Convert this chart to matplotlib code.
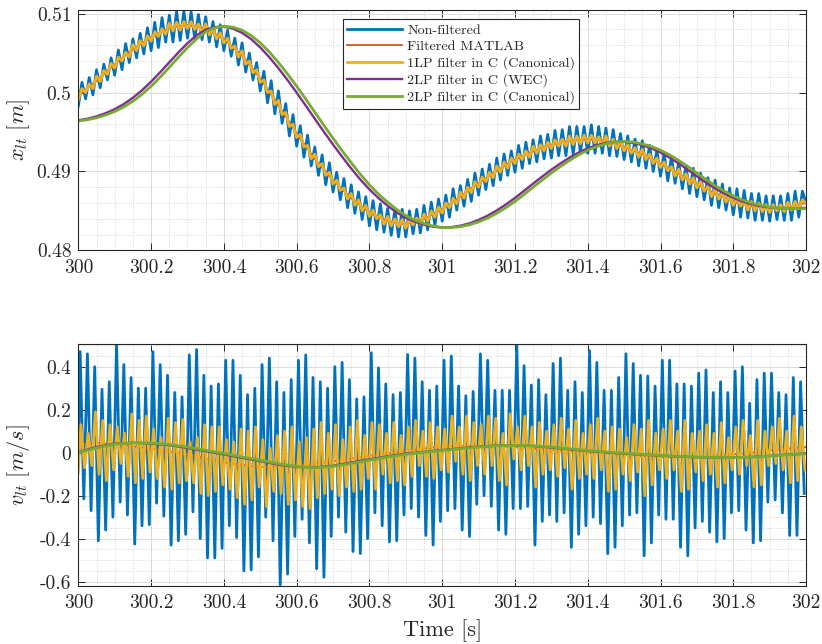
import numpy as np
import matplotlib
matplotlib.use("Agg")
import matplotlib.pyplot as plt
from matplotlib.ticker import FixedLocator, FixedFormatter, MultipleLocator

# ---------------- data ----------------
legend_labels = ["Non-filtered", "Filtered MATLAB", "1LP filter in C (Canonical)",
                 "2LP filter in C (WEC)", "2LP filter in C (Canonical)"]
colors = ["#0072BD", "#D95319", "#EDB120", "#7E2F8E", "#77AC30"]

x_ticks = [300, 300.2, 300.4, 300.6, 300.8, 301, 301.2, 301.4, 301.6, 301.8, 302]
x_ticklabels = ["300", "300.2", "300.4", "300.6", "300.8", "301", "301.2", "301.4", "301.6", "301.8", "302"]
pos_ticks = [0.48, 0.49, 0.50, 0.51]
pos_ticklabels = ["0.48", "0.49", "0.5", "0.51"]
vel_ticks = [-0.6, -0.4, -0.2, 0.0, 0.2, 0.4]
vel_ticklabels = ["-0.6", "-0.4", "-0.2", "0", "0.2", "0.4"]

# smooth curves, sampled every 0.05 s
t_smooth = np.round(np.linspace(300.0, 302.0, 41), 3)
# smooth position curves of the 2LP filters, sampled every 0.025 s
t_smooth_fine = np.round(np.linspace(300.0, 302.0, 81), 3)

pos_filt_matlab = [0.4996, 0.5015, 0.5036, 0.5055, 0.5070, 0.5082, 0.5086, 0.5081, 0.5068, 0.5047,
                   0.5018, 0.4984, 0.4948, 0.4916, 0.4889, 0.4866, 0.4848, 0.4837, 0.4833, 0.4840,
                   0.4852, 0.4868, 0.4885, 0.4901, 0.4915, 0.4926, 0.4934, 0.4939, 0.4941, 0.4939,
                   0.4931, 0.4922, 0.4910, 0.4897, 0.4884, 0.4872, 0.4862, 0.4856, 0.4853, 0.4855,
                   0.4860]
pos_2lp_can = [0.49640, 0.49655, 0.49680, 0.49715, 0.49760, 0.49818, 0.49890, 0.49978, 0.50080, 0.50196,
               0.50320, 0.50448, 0.50570, 0.50681, 0.50770, 0.50821, 0.50840, 0.50829, 0.50790, 0.50723,
               0.50630, 0.50514, 0.50380, 0.50235, 0.50080, 0.49917, 0.49750, 0.49584, 0.49420, 0.49262,
               0.49110, 0.48964, 0.48830, 0.48713, 0.48610, 0.48518, 0.48440, 0.48383, 0.48340, 0.48308,
               0.48290, 0.48288, 0.48300, 0.48324, 0.48360, 0.48409, 0.48470, 0.48541, 0.48620, 0.48708,
               0.48800, 0.48891, 0.48980, 0.49063, 0.49140, 0.49210, 0.49270, 0.49316, 0.49350, 0.49372,
               0.49380, 0.49372, 0.49350, 0.49316, 0.49270, 0.49210, 0.49140, 0.49062, 0.48980, 0.48898,
               0.48820, 0.48751, 0.48690, 0.48640, 0.48600, 0.48571, 0.48550, 0.48537, 0.48530, 0.48529,
               0.48530]
pos_2lp_wec = [0.49648, 0.49668, 0.49698, 0.49738, 0.49789, 0.49854, 0.49934, 0.50029, 0.50138, 0.50258,
               0.50384, 0.50509, 0.50626, 0.50726, 0.50796, 0.50831, 0.50835, 0.50810, 0.50757, 0.50677,
               0.50572, 0.50447, 0.50308, 0.50158, 0.49999, 0.49834, 0.49667, 0.49502, 0.49341, 0.49186,
               0.49037, 0.48897, 0.48772, 0.48662, 0.48564, 0.48479, 0.48412, 0.48362, 0.48324, 0.48299,
               0.48289, 0.48294, 0.48312, 0.48342, 0.48385, 0.48440, 0.48506, 0.48581, 0.48664, 0.48754,
               0.48846, 0.48936, 0.49022, 0.49102, 0.49175, 0.49240, 0.49293, 0.49333, 0.49361, 0.49376,
               0.49376, 0.49361, 0.49333, 0.49293, 0.49240, 0.49175, 0.49101, 0.49021, 0.48939, 0.48859,
               0.48786, 0.48721, 0.48665, 0.48620, 0.48586, 0.48561, 0.48544, 0.48534, 0.48530, 0.48530,
               0.48540]
vel_filt_matlab = [0.040, 0.045, 0.040, 0.030, 0.018, 0.006, -0.008, -0.027, -0.045, -0.058,
                   -0.066, -0.068, -0.062, -0.051, -0.040, -0.027, -0.015, -0.004, 0.008, 0.020,
                   0.028, 0.032, 0.032, 0.030, 0.026, 0.020, 0.013, 0.007, 0.002, -0.004,
                   -0.010, -0.016, -0.020, -0.022, -0.020, -0.015, -0.008, 0.000, 0.010, 0.019,
                   0.026]
vel_2lp_wec = [0.002, 0.026, 0.042, 0.046, 0.043, 0.035, 0.022, 0.007, -0.008, -0.024,
               -0.039, -0.056, -0.066, -0.069, -0.061, -0.046, -0.031, -0.017, -0.005, 0.004,
               0.012, 0.020, 0.028, 0.033, 0.034, 0.031, 0.024, 0.016, 0.008, 0.001,
               -0.004, -0.009, -0.014, -0.018, -0.021, -0.023, -0.023, -0.020, -0.015, -0.009,
               -0.004]
vel_2lp_can = [0.000, 0.022, 0.040, 0.046, 0.045, 0.038, 0.026, 0.011, -0.004, -0.020,
               -0.035, -0.052, -0.064, -0.070, -0.064, -0.050, -0.035, -0.020, -0.008, 0.002,
               0.010, 0.018, 0.026, 0.032, 0.034, 0.032, 0.026, 0.018, 0.010, 0.003,
               -0.002, -0.008, -0.013, -0.017, -0.020, -0.022, -0.023, -0.021, -0.016, -0.010,
               -0.005]

# oscillating position signals: minima (t = 300.00 + 0.02k) and maxima (t = 300.01 + 0.02k)
pos_raw_min = [0.4983, 0.4992, 0.4997, 0.5006, 0.5016, 0.5022, 0.5029, 0.5038, 0.5044, 0.5049,
               0.5053, 0.5057, 0.5064, 0.5064, 0.5066, 0.5069, 0.5068, 0.5067, 0.5064, 0.5058,
               0.5053, 0.5046, 0.5035, 0.5026, 0.5016, 0.5002, 0.4987, 0.4973, 0.4961, 0.4945,
               0.4932, 0.4918, 0.4907, 0.4895, 0.4883, 0.4874, 0.4864, 0.4854, 0.4847, 0.4839,
               0.4831, 0.4826, 0.4823, 0.4819, 0.4817, 0.4817, 0.4821, 0.4822, 0.4826, 0.4832,
               0.4837, 0.4842, 0.4851, 0.4856, 0.4862, 0.4870, 0.4877, 0.4882, 0.4889, 0.4895,
               0.4899, 0.4904, 0.4910, 0.4912, 0.4916, 0.4917, 0.4920, 0.4920, 0.4922, 0.4924,
               0.4923, 0.4923, 0.4923, 0.4920, 0.4919, 0.4915, 0.4912, 0.4907, 0.4904, 0.4900,
               0.4894, 0.4888, 0.4885, 0.4878, 0.4872, 0.4868, 0.4864, 0.4857, 0.4854, 0.4851,
               0.4845, 0.4842, 0.4841, 0.4838, 0.4838, 0.4837, 0.4839, 0.4838, 0.4838, 0.4842]
pos_raw_max = [0.5013, 0.5019, 0.5029, 0.5036, 0.5044, 0.5054, 0.5062, 0.5068, 0.5075, 0.5082,
               0.5089, 0.5095, 0.5098, 0.5103, 0.5103, 0.5102, 0.5099, 0.5096, 0.5090, 0.5086,
               0.5079, 0.5069, 0.5063, 0.5050, 0.5038, 0.5027, 0.5015, 0.5002, 0.4986, 0.4972,
               0.4958, 0.4946, 0.4931, 0.4921, 0.4911, 0.4899, 0.4891, 0.4883, 0.4874, 0.4868,
               0.4863, 0.4859, 0.4853, 0.4852, 0.4852, 0.4850, 0.4852, 0.4857, 0.4861, 0.4865,
               0.4870, 0.4878, 0.4882, 0.4890, 0.4898, 0.4903, 0.4909, 0.4917, 0.4922, 0.4926,
               0.4933, 0.4937, 0.4940, 0.4945, 0.4947, 0.4952, 0.4953, 0.4957, 0.4957, 0.4957,
               0.4959, 0.4957, 0.4955, 0.4953, 0.4948, 0.4945, 0.4941, 0.4939, 0.4933, 0.4927,
               0.4923, 0.4919, 0.4912, 0.4908, 0.4904, 0.4898, 0.4892, 0.4889, 0.4884, 0.4879,
               0.4878, 0.4876, 0.4872, 0.4872, 0.4869, 0.4869, 0.4869, 0.4872, 0.4875, 0.4875]
pos_raw_end = 0.4860
pos_1lp_min = [0.4991, 0.5000, 0.5005, 0.5014, 0.5023, 0.5031, 0.5040, 0.5045, 0.5053, 0.5059,
               0.5065, 0.5071, 0.5074, 0.5078, 0.5079, 0.5081, 0.5080, 0.5076, 0.5073, 0.5068,
               0.5063, 0.5056, 0.5045, 0.5036, 0.5025, 0.5013, 0.5000, 0.4985, 0.4972, 0.4957,
               0.4943, 0.4931, 0.4916, 0.4906, 0.4895, 0.4884, 0.4876, 0.4865, 0.4857, 0.4850,
               0.4843, 0.4840, 0.4833, 0.4831, 0.4830, 0.4828, 0.4832, 0.4833, 0.4837, 0.4842,
               0.4847, 0.4854, 0.4859, 0.4866, 0.4873, 0.4880, 0.4887, 0.4892, 0.4899, 0.4904,
               0.4910, 0.4915, 0.4918, 0.4923, 0.4926, 0.4929, 0.4932, 0.4932, 0.4934, 0.4935,
               0.4936, 0.4936, 0.4933, 0.4932, 0.4929, 0.4926, 0.4923, 0.4918, 0.4915, 0.4910,
               0.4905, 0.4901, 0.4894, 0.4889, 0.4884, 0.4879, 0.4875, 0.4868, 0.4865, 0.4861,
               0.4857, 0.4856, 0.4851, 0.4850, 0.4849, 0.4848, 0.4850, 0.4849, 0.4851, 0.4853]
pos_1lp_max = [0.5005, 0.5011, 0.5021, 0.5028, 0.5037, 0.5045, 0.5051, 0.5061, 0.5066, 0.5072,
               0.5077, 0.5081, 0.5088, 0.5089, 0.5090, 0.5090, 0.5087, 0.5087, 0.5081, 0.5076,
               0.5069, 0.5059, 0.5053, 0.5040, 0.5029, 0.5016, 0.5002, 0.4990, 0.4975, 0.4960,
               0.4947, 0.4933, 0.4922, 0.4910, 0.4899, 0.4889, 0.4879, 0.4872, 0.4864, 0.4857,
               0.4851, 0.4845, 0.4843, 0.4840, 0.4839, 0.4839, 0.4841, 0.4846, 0.4850, 0.4855,
               0.4860, 0.4866, 0.4874, 0.4880, 0.4887, 0.4893, 0.4899, 0.4907, 0.4912, 0.4917,
               0.4922, 0.4926, 0.4932, 0.4934, 0.4937, 0.4940, 0.4941, 0.4945, 0.4945, 0.4946,
               0.4946, 0.4944, 0.4945, 0.4941, 0.4938, 0.4934, 0.4930, 0.4928, 0.4922, 0.4917,
               0.4912, 0.4906, 0.4903, 0.4897, 0.4892, 0.4887, 0.4881, 0.4878, 0.4873, 0.4869,
               0.4866, 0.4862, 0.4862, 0.4860, 0.4858, 0.4858, 0.4858, 0.4861, 0.4862, 0.4864]
pos_1lp_end = 0.4860

# oscillating velocity signals: maxima (t = 300.005 + 0.02k) and minima (t = 300.015 + 0.02k)
vel_raw_start = 0.0
vel_raw_max = [0.47, 0.46, 0.40, 0.295, 0.33, 0.51, 0.41, 0.35, 0.30, 0.30,
               0.47, 0.41, 0.36, 0.28, 0.26, 0.455, 0.48, 0.36, 0.31, 0.32,
               0.43, 0.43, 0.36, 0.27, 0.30, 0.41, 0.44, 0.33, 0.28, 0.34,
               0.43, 0.455, 0.35, 0.33, 0.30, 0.40, 0.42, 0.34, 0.25, 0.26,
               0.465, 0.395, 0.32, 0.27, 0.28, 0.457, 0.44, 0.33, 0.29, 0.31,
               0.43, 0.45, 0.31, 0.265, 0.285, 0.46, 0.43, 0.29, 0.29, 0.29,
               0.50, 0.405, 0.315, 0.34, 0.27, 0.415, 0.44, 0.29, 0.33, 0.28,
               0.475, 0.42, 0.29, 0.29, 0.35, 0.46, 0.415, 0.36, 0.357, 0.31,
               0.43, 0.43, 0.32, 0.32, 0.31, 0.37, 0.385, 0.28, 0.33, 0.28,
               0.38, 0.40, 0.23, 0.34, 0.37, 0.37, 0.28, 0.27, 0.35, 0.33]
vel_raw_min = [-0.215, -0.27, -0.41, -0.36, -0.30, -0.23, -0.29, -0.425, -0.34, -0.335,
               -0.235, -0.295, -0.43, -0.41, -0.38, -0.275, -0.40, -0.49, -0.49, -0.445,
               -0.34, -0.395, -0.55, -0.545, -0.485, -0.30, -0.41, -0.615, -0.565, -0.39,
               -0.31, -0.42, -0.54, -0.58, -0.39, -0.30, -0.37, -0.46, -0.47, -0.40,
               -0.28, -0.34, -0.415, -0.41, -0.29, -0.26, -0.30, -0.385, -0.43, -0.32,
               -0.27, -0.26, -0.36, -0.39, -0.24, -0.20, -0.25, -0.36, -0.38, -0.26,
               -0.26, -0.25, -0.43, -0.32, -0.29, -0.32, -0.28, -0.44, -0.38, -0.34,
               -0.30, -0.33, -0.47, -0.44, -0.34, -0.29, -0.28, -0.48, -0.42, -0.29,
               -0.31, -0.31, -0.44, -0.48, -0.35, -0.32, -0.37, -0.415, -0.40, -0.28,
               -0.27, -0.36, -0.42, -0.41, -0.23, -0.22, -0.28, -0.385, -0.385, -0.19]
vel_1lp_start = -0.09
vel_1lp_max = [0.13, 0.09, 0.19, 0.15, 0.13, 0.12, 0.09, 0.18, 0.15, 0.17,
               0.11, 0.07, 0.16, 0.14, 0.155, 0.05, 0.07, 0.13, 0.12, 0.12,
               0.06, 0.05, 0.11, 0.10, 0.12, 0.06, 0.02, 0.08, 0.10, 0.12,
               0.05, 0.07, 0.11, 0.14, 0.09, 0.13, 0.06, 0.12, 0.15, 0.08,
               0.14, 0.13, 0.09, 0.14, 0.08, 0.12, 0.15, 0.10, 0.14, 0.12,
               0.11, 0.17, 0.12, 0.17, 0.14, 0.13, 0.17, 0.16, 0.09, 0.18,
               0.12, 0.17, 0.12, 0.14, 0.10, 0.13, 0.16, 0.11, 0.15, 0.09,
               0.13, 0.16, 0.10, 0.12, 0.11, 0.07, 0.13, 0.11, 0.15, 0.09,
               0.11, 0.15, 0.10, 0.15, 0.09, 0.10, 0.13, 0.09, 0.14, 0.07,
               0.12, 0.15, 0.08, 0.15, 0.10, 0.12, 0.16, 0.10, 0.17, 0.12]
vel_1lp_min = [-0.07, -0.06, -0.10, -0.13, -0.08, -0.05, -0.11, -0.14, -0.12, -0.09,
               -0.12, -0.16, -0.17, -0.14, -0.13, -0.14, -0.19, -0.20, -0.18, -0.15,
               -0.17, -0.21, -0.24, -0.22, -0.16, -0.25, -0.18, -0.19, -0.24, -0.22,
               -0.25, -0.26, -0.21, -0.19, -0.17, -0.20, -0.16, -0.18, -0.17, -0.12,
               -0.17, -0.10, -0.14, -0.13, -0.15, -0.11, -0.06, -0.11, -0.12, -0.08,
               -0.09, -0.04, -0.10, -0.13, -0.06, -0.10, -0.06, -0.13, -0.15, -0.03,
               -0.08, -0.06, -0.16, -0.10, -0.08, -0.11, -0.07, -0.17, -0.12, -0.10,
               -0.12, -0.08, -0.18, -0.17, -0.10, -0.13, -0.09, -0.20, -0.15, -0.08,
               -0.12, -0.08, -0.18, -0.17, -0.09, -0.13, -0.10, -0.16, -0.14, -0.08,
               -0.10, -0.06, -0.16, -0.15, -0.06, -0.05, -0.08, -0.14, -0.13, -0.08]

# ---------------- assemble sample sequences ----------------
def interleave(a, b):
    return np.column_stack([a, b]).ravel()

n = len(pos_raw_min)
t_pos = np.round(np.linspace(300.0, 302.0, 2 * n + 1), 3)
pos_raw = np.concatenate([interleave(pos_raw_min, pos_raw_max), [pos_raw_end]])
pos_1lp = np.concatenate([interleave(pos_1lp_min, pos_1lp_max), [pos_1lp_end]])

t_vel_raw = np.concatenate([[300.0], np.round(300.005 + 0.01 * np.arange(2 * n), 3)])
vel_raw = np.concatenate([[vel_raw_start], interleave(vel_raw_max, vel_raw_min)])
t_vel_1lp = np.concatenate([[300.0], np.round(300.007 + 0.01 * np.arange(2 * n), 3)])
vel_1lp = np.concatenate([[vel_1lp_start], interleave(vel_1lp_max, vel_1lp_min)])

# ---------------- style ----------------
plt.rcParams["font.family"] = ["cmr10", "DejaVu Serif"]
plt.rcParams["mathtext.fontset"] = "cm"
plt.rcParams["axes.unicode_minus"] = False
plt.rcParams["axes.formatter.use_mathtext"] = True

axc = "#262626"
fig = plt.figure(figsize=(8.22, 6.44), dpi=100)
ax1 = fig.add_axes([0.0953, 0.6113, 0.8853, 0.3736])
ax2 = fig.add_axes([0.0953, 0.0905, 0.8853, 0.3748])

lw = dict(raw=2.0, matlab=1.3, lp1=2.0, wec=1.7, can=2.0)

ax1.plot(t_pos, pos_raw, color=colors[0], lw=lw["raw"], label=legend_labels[0])
ax1.plot(t_smooth, pos_filt_matlab, color=colors[1], lw=lw["matlab"], label=legend_labels[1])
ax1.plot(t_pos, pos_1lp, color=colors[2], lw=lw["lp1"], label=legend_labels[2])
ax1.plot(t_smooth_fine, pos_2lp_wec, color=colors[3], lw=lw["wec"], label=legend_labels[3])
ax1.plot(t_smooth_fine, pos_2lp_can, color=colors[4], lw=lw["can"], label=legend_labels[4])

ax2.plot(t_vel_raw, vel_raw, color=colors[0], lw=lw["raw"])
ax2.plot(t_smooth, vel_filt_matlab, color=colors[1], lw=lw["matlab"])
ax2.plot(t_vel_1lp, vel_1lp, color=colors[2], lw=lw["lp1"])
ax2.plot(t_smooth, vel_2lp_wec, color=colors[3], lw=lw["wec"])
ax2.plot(t_smooth, vel_2lp_can, color=colors[4], lw=lw["can"])

ax1.set_xlim(300, 302)
ax1.set_ylim(0.48, 0.5105)
ax2.set_xlim(300, 302)
ax2.set_ylim(-0.619, 0.504)

for ax, yt, ytl, yminor in [(ax1, pos_ticks, pos_ticklabels, 0.002),
                            (ax2, vel_ticks, vel_ticklabels, 0.05)]:
    ax.xaxis.set_major_locator(FixedLocator(x_ticks))
    ax.xaxis.set_major_formatter(FixedFormatter(x_ticklabels))
    ax.yaxis.set_major_locator(FixedLocator(yt))
    ax.yaxis.set_major_formatter(FixedFormatter(ytl))
    ax.xaxis.set_minor_locator(MultipleLocator(0.05))
    ax.yaxis.set_minor_locator(MultipleLocator(yminor))
    ax.set_axisbelow(True)
    ax.grid(which="major", color="#dcdcdc", lw=0.7, ls="-")
    ax.grid(which="minor", color="#c8c8c8", lw=0.6, ls=(0, (1, 2)))
    ax.tick_params(which="major", direction="in", top=True, right=True, length=5,
                   width=0.7, color=axc, labelcolor=axc, labelsize=14)
    ax.tick_params(axis="x", which="major", pad=6)
    ax.tick_params(axis="y", which="major", pad=5)
    ax.tick_params(which="minor", length=0)
    for s in ax.spines.values():
        s.set_color(axc)
        s.set_linewidth(0.8)

ax1.set_ylabel(r"$x_{lt}\ [m]$", fontsize=16, color=axc)
ax2.set_ylabel(r"$v_{lt}\ [m/s]$", fontsize=16, color=axc)
ax2.set_xlabel("Time [s]", fontsize=16, color=axc)
ax1.yaxis.set_label_coords(-0.063, 0.5)
ax2.yaxis.set_label_coords(-0.063, 0.5)
ax2.xaxis.set_label_coords(0.5, -0.138)

leg = ax1.legend(loc="upper left", bbox_to_anchor=(0.3633, 0.960), fontsize=10.2,
                 handlelength=3.9, handletextpad=0.35, labelspacing=0.24,
                 borderpad=0.3, borderaxespad=0.0, frameon=True, fancybox=False,
                 framealpha=1.0, edgecolor=axc)
leg.get_frame().set_linewidth(0.8)
for txt in leg.get_texts():
    txt.set_color(axc)

fig.savefig("out.png", dpi=100)
